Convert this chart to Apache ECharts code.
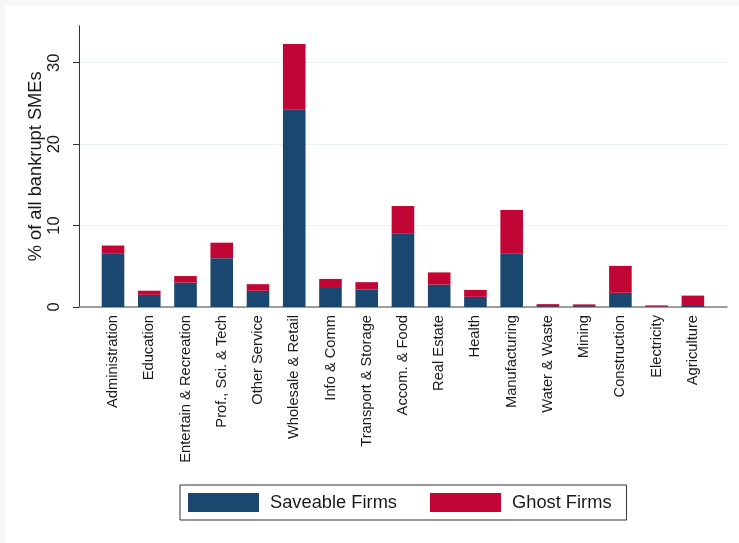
<!DOCTYPE html>
<html>
<head>
<meta charset="utf-8">
<script src="https://cdn.jsdelivr.net/npm/echarts@6/dist/echarts.min.js"></script>
<style>
  html, body { margin: 0; padding: 0; background: #f7f7f7; }
  #paper { position: absolute; left: 5px; top: 6px; right: 0; bottom: 0; background: #ffffff; }
  #chart { position: absolute; left: 0; top: 0; width: 739px; height: 543px; }
</style>
</head>
<body>
<div id="paper"></div>
<div id="chart"></div>
<script>
// Industry sectors, in plotted order
const sectors = [
  'Administration', 'Education', 'Entertain & Recreation', 'Prof., Sci. & Tech',
  'Other Service', 'Wholesale & Retail', 'Info & Comm', 'Transport & Storage',
  'Accom. & Food', 'Real Estate', 'Health', 'Manufacturing', 'Water & Waste',
  'Mining', 'Construction', 'Electricity', 'Agriculture'
];

// Share of all bankrupt SMEs (%), split by firm type
const saveableFirms = [6.6, 1.5, 3.0, 6.0, 2.0, 24.3, 2.45, 2.15, 9.05, 2.75, 1.25, 6.6, 0.1, 0.1, 1.75, 0.05, 0.25];
const ghostFirms    = [0.95, 0.5, 0.8, 1.9, 0.8, 8.0, 1.0, 0.9, 3.35, 1.5, 0.85, 5.3, 0.25, 0.22, 3.3, 0.15, 1.15];

// Value-axis ticks
const yTicks = [0, 10, 20, 30];
const yMax = 34.55;       // top of the plot region
const yTickMax = 30;      // last labelled tick

// Plot region in pixels
const PLOT_TOP = 25.7, PLOT_BOTTOM = 307, PLOT_LEFT = 79, PLOT_RIGHT = 727;
const H = 543, W = 739;
const tickTop = PLOT_BOTTOM - yTickMax * (PLOT_BOTTOM - PLOT_TOP) / yMax;

const FONT = '"Liberation Sans", Arial, Helvetica, sans-serif';
const NAVY = '#1a476f';
const CRANBERRY = '#c10534';

const chart = echarts.init(document.getElementById('chart'), null, { renderer: 'canvas' });

chart.setOption({
  animation: false,
  textStyle: { fontFamily: FONT, color: '#1a1a1a' },
  grid: [
    // frame grid: axis lines, labels and gridlines
    { left: PLOT_LEFT, right: W - PLOT_RIGHT, top: PLOT_TOP, bottom: H - PLOT_BOTTOM },
    // bar grid: categories spread over the inner span
    { left: 94.9, right: 28, top: PLOT_TOP, bottom: H - PLOT_BOTTOM },
    // tick grid: only spans the labelled range so ticks stop at 30
    { left: PLOT_LEFT, right: W - PLOT_RIGHT, top: tickTop, bottom: H - PLOT_BOTTOM }
  ],
  xAxis: [
    {
      type: 'category', gridIndex: 0, data: [''],
      axisLine: { show: true, lineStyle: { color: '#808080', width: 1.5 } },
      axisTick: { show: false }, axisLabel: { show: false }, splitLine: { show: false }
    },
    {
      type: 'category', gridIndex: 1, data: sectors,
      axisLine: { show: false }, axisTick: { show: false },
      axisLabel: {
        interval: 0, rotate: 90, margin: 8,
        fontSize: 14.7, color: '#1a1a1a', fontFamily: FONT
      }
    },
    { type: 'category', gridIndex: 2, data: [''], show: false }
  ],
  yAxis: [
    {
      type: 'value', gridIndex: 0, min: 0, max: yMax, interval: 10,
      name: '% of all bankrupt SMEs', nameLocation: 'middle', nameGap: 34,
      nameRotate: 90, nameMoveOverlap: false,
      nameTextStyle: { fontSize: 18.3, color: '#1a1a1a', fontFamily: FONT },
      axisLine: { show: true, lineStyle: { color: '#333333', width: 1 } },
      axisTick: { show: false },
      axisLabel: {
        rotate: 90, margin: 16, fontSize: 16.5, color: '#1a1a1a', fontFamily: FONT,
        customValues: yTicks
      },
      splitLine: { show: true, showMaxLine: false, lineStyle: { color: '#eaf2f3', width: 1.2 } }
    },
    {
      type: 'value', gridIndex: 1, min: 0, max: yMax, interval: 10, show: false,
      splitLine: { show: false }
    },
    {
      type: 'value', gridIndex: 2, min: 0, max: yTickMax, interval: 10,
      axisLine: { show: false },
      axisTick: { show: true, length: 6, lineStyle: { color: '#333333', width: 1 } },
      axisLabel: { show: false },
      splitLine: { show: false }
    }
  ],
  legend: {
    left: 180, top: 485,
    orient: 'horizontal',
    itemWidth: 71, itemHeight: 19, itemGap: 33,
    padding: [8, 15, 8, 8],
    borderColor: '#333333', borderWidth: 1,
    backgroundColor: '#ffffff',
    icon: 'rect',
    textStyle: { fontSize: 18.3, color: '#1a1a1a', fontFamily: FONT, padding: [0, 0, 0, 6] },
    data: ['Saveable Firms', 'Ghost Firms']
  },
  series: [
    {
      name: 'Saveable Firms', type: 'bar', stack: 'total',
      xAxisIndex: 1, yAxisIndex: 1, barWidth: 22.6,
      itemStyle: { color: NAVY },
      data: saveableFirms
    },
    {
      name: 'Ghost Firms', type: 'bar', stack: 'total',
      xAxisIndex: 1, yAxisIndex: 1, barWidth: 22.6,
      itemStyle: { color: CRANBERRY },
      data: ghostFirms
    }
  ]
});
</script>
</body>
</html>
